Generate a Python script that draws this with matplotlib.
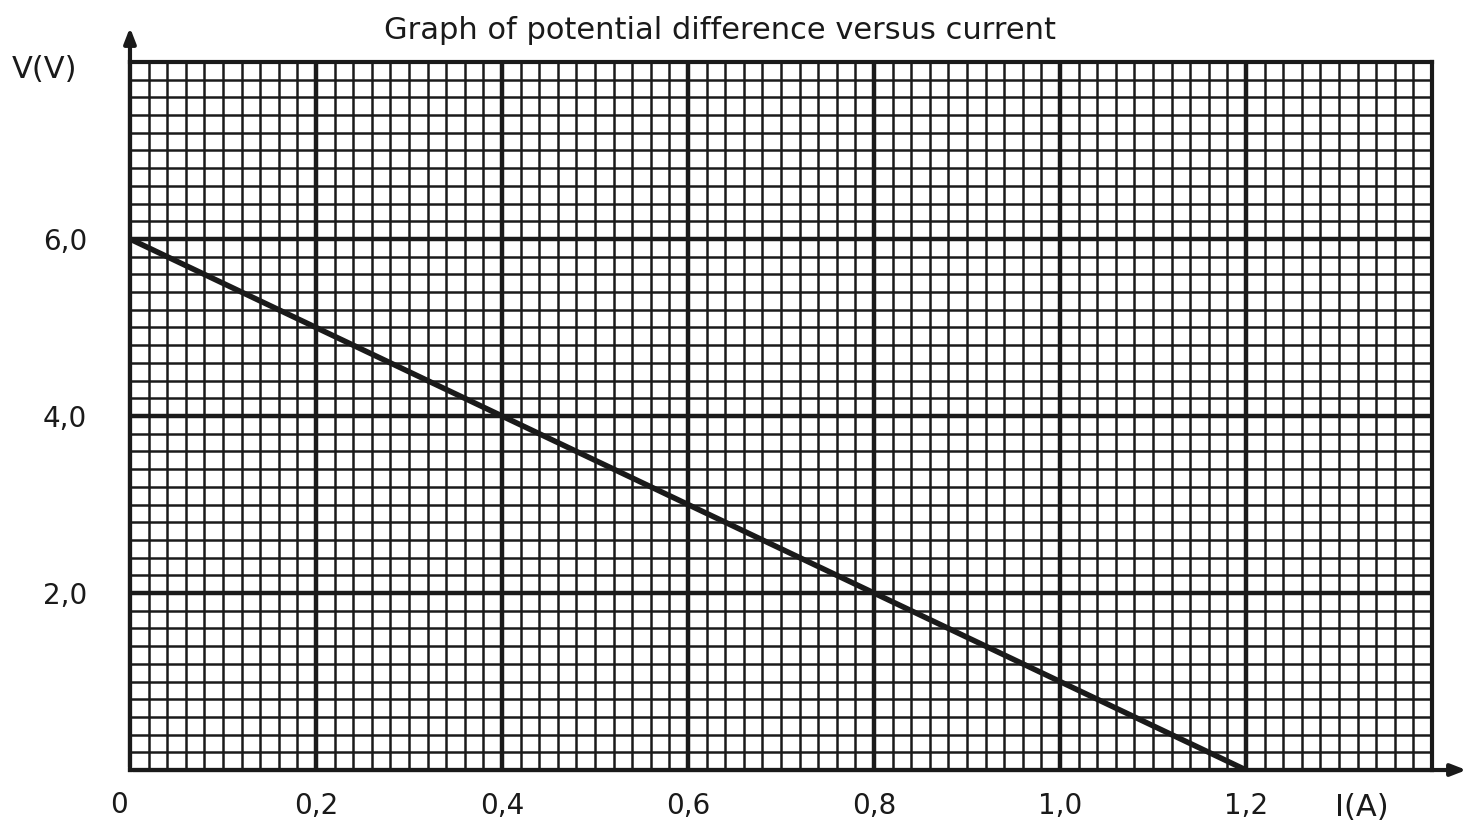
import numpy as np
import matplotlib.pyplot as plt
from matplotlib.ticker import MultipleLocator

# --- DONNÉES ---
courant = [0.0, 1.2]          # I (A)
tension = [6.0, 0.0]          # V (V)
x_ticks = [0.2, 0.4, 0.6, 0.8, 1.0, 1.2]
x_labels = ["0,2", "0,4", "0,6", "0,8", "1,0", "1,2"]
y_ticks = [2.0, 4.0, 6.0]
y_labels = ["2,0", "4,0", "6,0"]
titre = "Graph of potential difference versus current"

plt.rcParams['font.family'] = ['DejaVu Sans']
encre = '#1a1a1a'

fig = plt.figure(figsize=(14.72, 8.32), dpi=100)
ax = fig.add_axes([0.0883, 0.0745, 0.8845, 0.851])
ax.set_xlim(0, 1.4)
ax.set_ylim(0, 8.0)

# quadrillage (papier millimétré)
ax.xaxis.set_major_locator(MultipleLocator(0.2))
ax.xaxis.set_minor_locator(MultipleLocator(0.02))
ax.yaxis.set_major_locator(MultipleLocator(2.0))
ax.yaxis.set_minor_locator(MultipleLocator(0.2))
ax.grid(which='minor', color=encre, lw=1.8)
ax.grid(which='major', color=encre, lw=3.2)
ax.set_axisbelow(True)

ax.set_xticks(x_ticks, x_labels)
ax.set_yticks(y_ticks, y_labels)
ax.tick_params(which='both', length=0, labelsize=20, colors=encre)
ax.tick_params(axis='x', pad=16)
ax.tick_params(axis='y', pad=31)

for s in ax.spines.values():
    s.set_color(encre)
    s.set_linewidth(3)

# la droite
ax.plot(courant, tension, color=encre, lw=4, solid_capstyle='butt')

# axes fléchés
fleche = dict(arrowstyle='-|>,head_length=0.9,head_width=0.35', color=encre, lw=3)
ax.annotate('', xy=(0, 8.42), xytext=(0, 0), arrowprops=fleche,
            annotation_clip=False)
ax.annotate('', xy=(1.44, 0), xytext=(0, 0), arrowprops=fleche,
            annotation_clip=False)

# étiquettes
ax.text(-0.012, -0.40, "0", fontsize=20, color=encre, ha='center', va='center')
ax.text(1.325, -0.42, "I(A)", fontsize=22, color=encre, ha='center', va='center')
ax.text(-0.092, 7.92, "V(V)", fontsize=22, color=encre, ha='center', va='center',
        clip_on=False)
fig.text(0.489, 0.963, titre, fontsize=22, color=encre, ha='center', va='center')

fig.savefig('out.png', dpi=100)
